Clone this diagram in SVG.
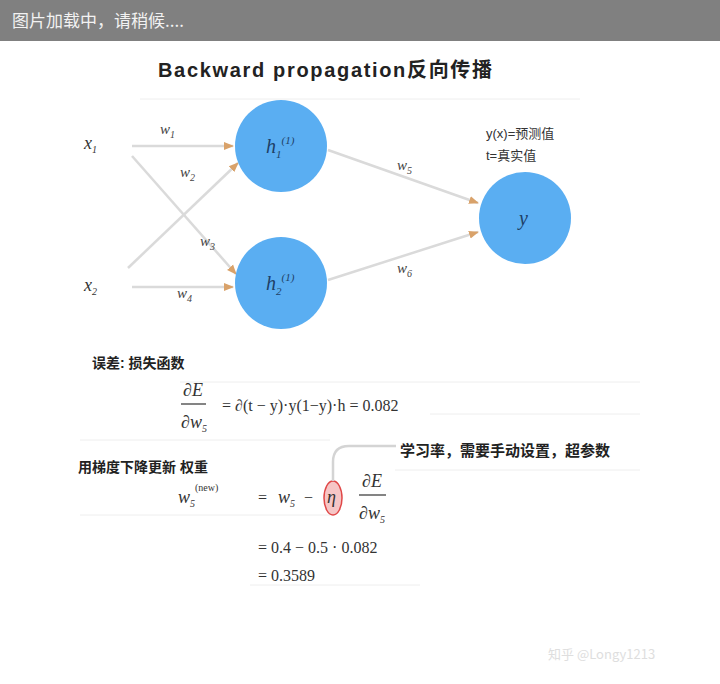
<svg xmlns="http://www.w3.org/2000/svg" width="720" height="684" viewBox="0 0 720 684">
<defs>
<style>
.bar{fill:#808080}
.bartxt{font-family:"Noto Sans CJK SC","Liberation Serif",serif;font-size:17px;fill:#f2f2f2}
.title{font-family:"Liberation Sans","Noto Sans CJK SC",sans-serif;font-size:20px;font-weight:bold;fill:#222}
.head{font-family:"Liberation Sans","Noto Sans CJK SC",sans-serif;font-size:14px;font-weight:bold;fill:#222}
.note{font-family:"Liberation Sans","Noto Sans CJK SC",sans-serif;font-size:15px;font-weight:bold;fill:#222}
.small{font-family:"Liberation Sans","Noto Sans CJK SC",sans-serif;font-size:13px;fill:#333}
.math{font-family:"Liberation Serif","Noto Sans CJK SC",serif;font-size:16px;fill:#333}
.var{font-family:"Liberation Serif",serif;font-style:italic;font-size:18px;fill:#333}
.w{font-family:"Liberation Serif",serif;font-style:italic;font-size:15px;fill:#444}
.sub{font-size:10px}
.node{fill:#5aaef2}
.nlabel{font-family:"Liberation Serif",serif;font-style:italic;font-size:20px;fill:#1e3f66}
.edge{stroke:#dadada;stroke-width:2.5;fill:none}
.guide{stroke:#eeeeee;stroke-width:1;fill:none}
.wm{font-family:"Noto Sans CJK SC","Liberation Sans",sans-serif;font-size:13px;fill:#dedede}
</style>
<marker id="tip" viewBox="0 0 10 10" refX="9" refY="5" markerWidth="4" markerHeight="4" orient="auto">
<path d="M0,1 L10,5 L0,9 z" fill="#d9a26a"/>
</marker>
</defs>
<rect width="720" height="684" fill="#ffffff"/>
<rect class="bar" x="0" y="0" width="720" height="41"/>
<text class="bartxt" x="12" y="27">图片加载中，请稍候....</text>

<g id="title">
<text class="title" x="158" y="77" textLength="334" lengthAdjust="spacing">Backward propagation反向传播</text>
</g>

<g id="guides">
<line class="guide" x1="140" y1="99" x2="580" y2="99"/>
<line class="guide" x1="180" y1="382" x2="640" y2="382"/>
<line class="guide" x1="430" y1="414" x2="640" y2="414"/>
<line class="guide" x1="80" y1="440" x2="330" y2="440"/>
<line class="guide" x1="395" y1="470" x2="640" y2="470"/>
<line class="guide" x1="80" y1="515" x2="330" y2="515"/>
<line class="guide" x1="250" y1="585" x2="420" y2="585"/>
</g>

<g id="connectors">
<line class="edge" x1="132" y1="146" x2="233" y2="146" marker-end="url(#tip)"/>
<line class="edge" x1="132" y1="156" x2="236" y2="274" marker-end="url(#tip)"/>
<line class="edge" x1="128" y1="268" x2="238" y2="163" marker-end="url(#tip)"/>
<line class="edge" x1="132" y1="287" x2="233" y2="287" marker-end="url(#tip)"/>
<line class="edge" x1="328" y1="150" x2="478" y2="203" marker-end="url(#tip)"/>
<line class="edge" x1="328" y1="280" x2="478" y2="232" marker-end="url(#tip)"/>
<text class="w" x="160" y="134">w<tspan class="sub" dy="4">1</tspan></text>
<text class="w" x="180" y="177">w<tspan class="sub" dy="4">2</tspan></text>
<text class="w" x="200" y="246">w<tspan class="sub" dy="4">3</tspan></text>
<text class="w" x="177" y="298">w<tspan class="sub" dy="4">4</tspan></text>
<text class="w" x="397" y="170">w<tspan class="sub" dy="4">5</tspan></text>
<text class="w" x="397" y="273">w<tspan class="sub" dy="4">6</tspan></text>
</g>

<g id="x1">
<text class="var" x="84" y="149">x<tspan class="sub" dy="4">1</tspan></text>
</g>
<g id="x2">
<text class="var" x="84" y="291">x<tspan class="sub" dy="4">2</tspan></text>
</g>
<g id="h1">
<circle class="node" cx="281" cy="146" r="46"/>
<text class="nlabel" x="266" y="153">h<tspan font-size="11" dy="5">1</tspan><tspan font-size="11" dy="-14">(1)</tspan></text>
</g>
<g id="h2">
<circle class="node" cx="281" cy="283" r="46"/>
<text class="nlabel" x="266" y="290">h<tspan font-size="11" dy="5">2</tspan><tspan font-size="11" dy="-14">(1)</tspan></text>
</g>
<g id="y">
<circle class="node" cx="525" cy="218" r="46"/>
<text class="nlabel" x="519" y="225">y</text>
<text class="small" x="486" y="138">y(x)=预测值</text>
<text class="small" x="486" y="160">t=真实值</text>
</g>

<g id="loss">
<text class="head" x="92" y="368">误差: 损失函数</text>
<text class="var" x="183" y="396">∂E</text>
<line x1="181" y1="404" x2="206" y2="404" stroke="#333" stroke-width="1.2"/>
<text class="var" x="181" y="428">∂w<tspan class="sub" dy="4">5</tspan></text>
<text class="math" x="222" y="411">= ∂(t − y)·y(1−y)·h = 0.082</text>
</g>

<g id="update">
<text class="head" x="78" y="472">用梯度下降更新 权重</text>
<text class="var" x="178" y="503">w<tspan class="sub" dy="4">5</tspan><tspan class="sub" dy="-16" font-style="normal">(new)</tspan></text>
<text class="math" x="258" y="503">=</text>
<text class="var" x="278" y="503">w<tspan class="sub" dy="4">5</tspan></text>
<text class="math" x="304" y="503">−</text>
<ellipse cx="333" cy="498" rx="9" ry="17" fill="#f6c6c6" stroke="#e04848" stroke-width="1.5"/>
<text class="var" x="327" y="503" fill="#c03030">η</text>
<text class="var" x="362" y="487">∂E</text>
<line x1="359" y1="495" x2="386" y2="495" stroke="#333" stroke-width="1.2"/>
<text class="var" x="359" y="519">∂w<tspan class="sub" dy="4">5</tspan></text>
<path d="M333,481 L333,462 Q333,446 349,446 L396,446" fill="none" stroke="#d4d4d4" stroke-width="2.5"/>
<text class="note" x="400" y="456">学习率，需要手动设置，超参数</text>
<text class="math" x="258" y="553">= 0.4 − 0.5 · 0.082</text>
<text class="math" x="258" y="581">= 0.3589</text>
</g>

<g id="watermark">
<text class="wm" x="548" y="659">知乎 @Longy1213</text>
</g>
</svg>
